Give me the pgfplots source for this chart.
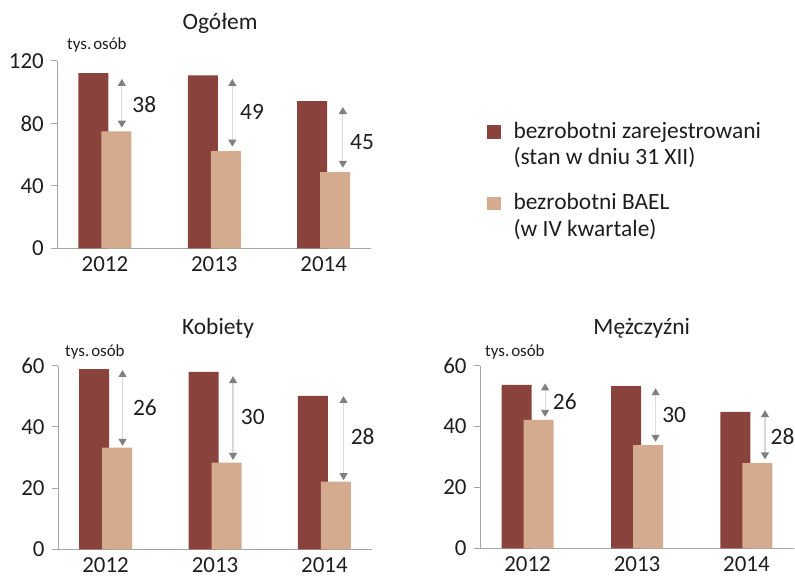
\documentclass[border=0pt]{standalone}
\usepackage{fontspec}
\setmainfont{Carlito}
\usepackage{pgfplots}
\pgfplotsset{compat=1.18}
\usetikzlibrary{arrows.meta}
\definecolor{darkbar}{HTML}{8A423C}
\definecolor{lightbar}{HTML}{D5AB90}
\definecolor{axisgray}{HTML}{A6A6A6}
\definecolor{arrline}{HTML}{D9D9D9}
\definecolor{arrhead}{HTML}{808080}
\definecolor{txt}{HTML}{1E1E1E}
\newcommand{\bigf}{\fontsize{23.5}{27}\selectfont}
\newcommand{\tickf}{\fontsize{23}{27}\selectfont}
\newcommand{\smallf}{\fontsize{17}{20}\selectfont}
\tikzset{
  dif/.style={draw=arrline, line width=1.2bp,
    {Triangle[width=8bp,length=7bp,color=arrhead]}-{Triangle[width=8bp,length=7bp,color=arrhead]}},
}
\pgfplotsset{
  panel/.style={
    scale only axis,
    width=314bp,
    xmin=-0.435, xmax=2.435,
    ymin=0,
    axis lines=left,
    axis line style={-, draw=axisgray, line width=1bp},
    xtick={0,1,2},
    xticklabels={2012,2013,2014},
    x tick style={draw=none},
    major x tick style={draw=none},
    y tick style={draw=axisgray, line width=1bp},
    tick align=outside,
    major tick length=6bp,
    ybar,
    bar width=30bp,
    clip=false,
    ticklabel style={font=\tickf, text=txt},
    yticklabel style={xshift=-4bp},
    xticklabel style={yshift=1bp},
    /pgf/number format/assume math mode=true,
  },
}
\begin{document}
\begin{tikzpicture}
\useasboundingbox (0,0) rectangle (795bp,577bp);

% ---------- Ogółem ----------
\begin{axis}[panel, at={(57.3bp,328.7bp)}, anchor=south west, height=187.3bp,
  ymax=120, ytick={0,40,80,120}]
\addplot[fill=darkbar, draw=none, bar shift=-11.5bp] coordinates {(0,112.3) (1,110.8) (2,94.3)};
\addplot[fill=lightbar, draw=none, bar shift=11.5bp] coordinates {(0,74.9) (1,62.2) (2,48.8)};
\draw[dif] (axis cs:0.155,108.5) -- (axis cs:0.155,77.3);
\draw[dif] (axis cs:1.165,108.5) -- (axis cs:1.165,65.1);
\draw[dif] (axis cs:2.175,90.5) -- (axis cs:2.175,51.6);
\node[font=\bigf, text=txt] at (axis cs:0.36,91.8) {38};
\node[font=\bigf, text=txt] at (axis cs:1.345,87.3) {49};
\node[font=\bigf, text=txt] at (axis cs:2.35,68.1) {45};
\end{axis}

% ---------- Kobiety ----------
\begin{axis}[panel, at={(58bp,27.7bp)}, anchor=south west, height=183.6bp,
  ymax=60, ytick={0,20,40,60}]
\addplot[fill=darkbar, draw=none, bar shift=-11.5bp] coordinates {(0,58.9) (1,58.0) (2,50.1)};
\addplot[fill=lightbar, draw=none, bar shift=11.5bp] coordinates {(0,33.2) (1,28.3) (2,22.1)};
\draw[dif] (axis cs:0.155,58.6) -- (axis cs:0.155,33.8);
\draw[dif] (axis cs:1.165,56.6) -- (axis cs:1.165,29.2);
\draw[dif] (axis cs:2.175,50.1) -- (axis cs:2.175,22.6);
\node[font=\bigf, text=txt] at (axis cs:0.36,46.2) {26};
\node[font=\bigf, text=txt] at (axis cs:1.345,43.3) {30};
\node[font=\bigf, text=txt] at (axis cs:2.35,36.8) {28};
\end{axis}

% ---------- Mężczyźni ----------
\begin{axis}[panel, at={(480bp,28.7bp)}, anchor=south west, height=182.6bp,
  ymax=60, ytick={0,20,40,60}]
\addplot[fill=darkbar, draw=none, bar shift=-11bp] coordinates {(0,53.7) (1,53.3) (2,44.8)};
\addplot[fill=lightbar, draw=none, bar shift=11bp] coordinates {(0,42.2) (1,33.9) (2,28.0)};
\draw[dif] (axis cs:0.16,54.2) -- (axis cs:0.16,43.2);
\draw[dif] (axis cs:1.17,52.6) -- (axis cs:1.17,35.0);
\draw[dif] (axis cs:2.17,45.4) -- (axis cs:2.17,29.2);
\node[font=\bigf, text=txt] at (axis cs:0.34,48.2) {26};
\node[font=\bigf, text=txt] at (axis cs:1.34,43.8) {30};
\node[font=\bigf, text=txt] at (axis cs:2.33,36.7) {28};
\end{axis}

% ---------- titles ----------
\node[font=\bigf, text=txt, anchor=base] at (220bp,547bp) {Ogółem};
\node[font=\bigf, text=txt, anchor=base] at (218bp,242bp) {Kobiety};
\node[font=\bigf, text=txt, anchor=base] at (641.7bp,242bp) {Mężczyźni};
\node[font=\smallf, text=txt, anchor=base west, inner sep=0] at (67bp,527bp) {tys.\kern2bp osób};
\node[font=\smallf, text=txt, anchor=base west, inner sep=0] at (65bp,220.3bp) {tys.\kern2bp osób};
\node[font=\smallf, text=txt, anchor=base west, inner sep=0] at (485bp,220.3bp) {tys.\kern2bp osób};

% ---------- legend ----------
\fill[darkbar] (486.7bp,437.7bp) rectangle (501bp,452bp);
\fill[lightbar] (486.7bp,367bp) rectangle (501bp,380.3bp);
\node[font=\bigf, text=txt, anchor=base west, inner sep=0] at (513.3bp,438.7bp) {bezrobotni zarejestrowani};
\node[font=\bigf, text=txt, anchor=base west, inner sep=0] at (513.3bp,412bp) {(stan w dniu 31 XII)};
\node[font=\bigf, text=txt, anchor=base west, inner sep=0] at (513.3bp,367bp) {bezrobotni BAEL};
\node[font=\bigf, text=txt, anchor=base west, inner sep=0] at (513.3bp,340.3bp) {(w IV kwartale)};
\end{tikzpicture}
\end{document}
